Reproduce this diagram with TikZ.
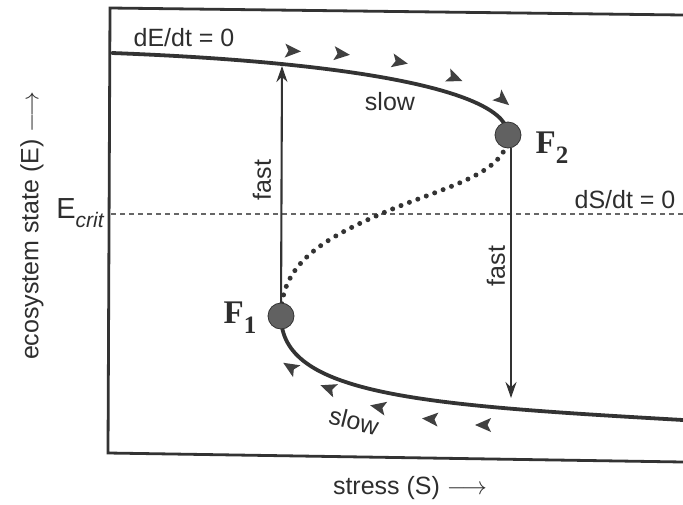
\documentclass[tikz,border=0pt]{standalone}
\usepackage{fontspec}
\setmainfont{Liberation Serif}
\setsansfont{Liberation Sans}
\usetikzlibrary{arrows.meta}
\begin{document}
\begin{tikzpicture}[x=1pt,y=-1pt,
  frame/.style={line width=2.8pt, draw=black!80, line join=miter},
  curve/.style={line width=3.8pt, draw=black!80, line cap=round},
  dotcurve/.style={line width=5pt, draw=black!80, line cap=round, dash pattern=on 0pt off 9pt},
  critline/.style={line width=1.6pt, draw=black!60, dash pattern=on 5pt off 4pt},
  fastarrow/.style={line width=2.1pt, draw=black!80, -{Stealth[length=16pt,width=11pt]}},
  fixpt/.style={circle, fill=black!62, draw=black!80, line width=0.8pt, minimum size=26pt, inner sep=0pt},
  lab/.style={font=\sffamily\fontsize{25}{25}\selectfont, text=black!82, inner sep=0pt},
  flabel/.style={font=\bfseries\fontsize{33}{33}\selectfont, text=black!82, inner sep=0pt},
  flowhead/.pic={\fill[black!75] (8,0) -- (-8,7) -- (-4.5,0) -- (-8,-7) -- cycle;}
]
\useasboundingbox (0,0) rectangle (683,504);
% frame
\draw[frame] (683,15) -- (110,8) -- (108,453) -- (683,462);
% coordinates
\coordinate (f2) at (508,135);
\coordinate (f1) at (281,316);
\coordinate (U1) at (282,66);
\coordinate (L1) at (511,398);
\coordinate (Ecl) at (111,214);
\coordinate (Ecr) at (683,214);
% E crit line
\draw[critline] (Ecl) -- (Ecr);
% equilibrium curves
\draw[curve] (112,53) .. controls (350,62) and (508,90) .. (f2);
\draw[curve] (f1) .. controls (281,395) and (420,405) .. (683,420);
\draw[dotcurve] (f2) .. controls (508,175) and (440,188) .. (383,213) .. controls (320,240) and (281,265) .. (f1);
% fixed points
\node[fixpt] (F2) at (f2) {};
\node[fixpt] (F1) at (f1) {};
% fast arrows
\draw[fastarrow] (F1) -- (U1);
\draw[fastarrow] (F2.south -| L1) -- (L1);
% flow heads upper
\pic[rotate=-3] at (293,51) {flowhead};
\pic[rotate=-6] at (342,54) {flowhead};
\pic[rotate=-12] at (400,62) {flowhead};
\pic[rotate=-22] at (455,78) {flowhead};
\pic[rotate=-40] at (503,100) {flowhead};
% flow heads lower
\pic[rotate=148] at (290,367) {flowhead};
\pic[rotate=160] at (328,388) {flowhead};
\pic[rotate=168] at (378,407) {flowhead};
\pic[rotate=176] at (430,419) {flowhead};
\pic[rotate=180] at (483,425) {flowhead};
% labels
\node[lab] (dEdt) at (184,38) {dE/dt = 0};
\node[lab] (dSdt) at (625,200) {dS/dt = 0};
\node[lab] (slow1) at (390,102) {slow};
\node[lab, rotate=-14] (slow2) at (354,421) {slow};
\node[lab, rotate=90] (fast1) at (262,180) {fast};
\node[lab, rotate=90] (fast2) at (496,266) {fast};
\node[flabel] (F2lab) at (552,148) {F\raisebox{-0.3em}{\fontsize{25}{25}\selectfont 2}};
\node[flabel] (F1lab) at (240,318) {F\raisebox{-0.3em}{\fontsize{25}{25}\selectfont 1}};
\node[lab, rotate=90] (ylab) at (32,226) {ecosystem state (E) $\longrightarrow$};
\node[lab] (xlab) at (410,488) {stress (S) $\longrightarrow$};
\node[lab] (Ecrit) at (80,213) {\fontsize{29}{29}\selectfont E\raisebox{-0.3em}{\fontsize{21}{21}\selectfont\itshape crit}};
\end{tikzpicture}
\end{document}
